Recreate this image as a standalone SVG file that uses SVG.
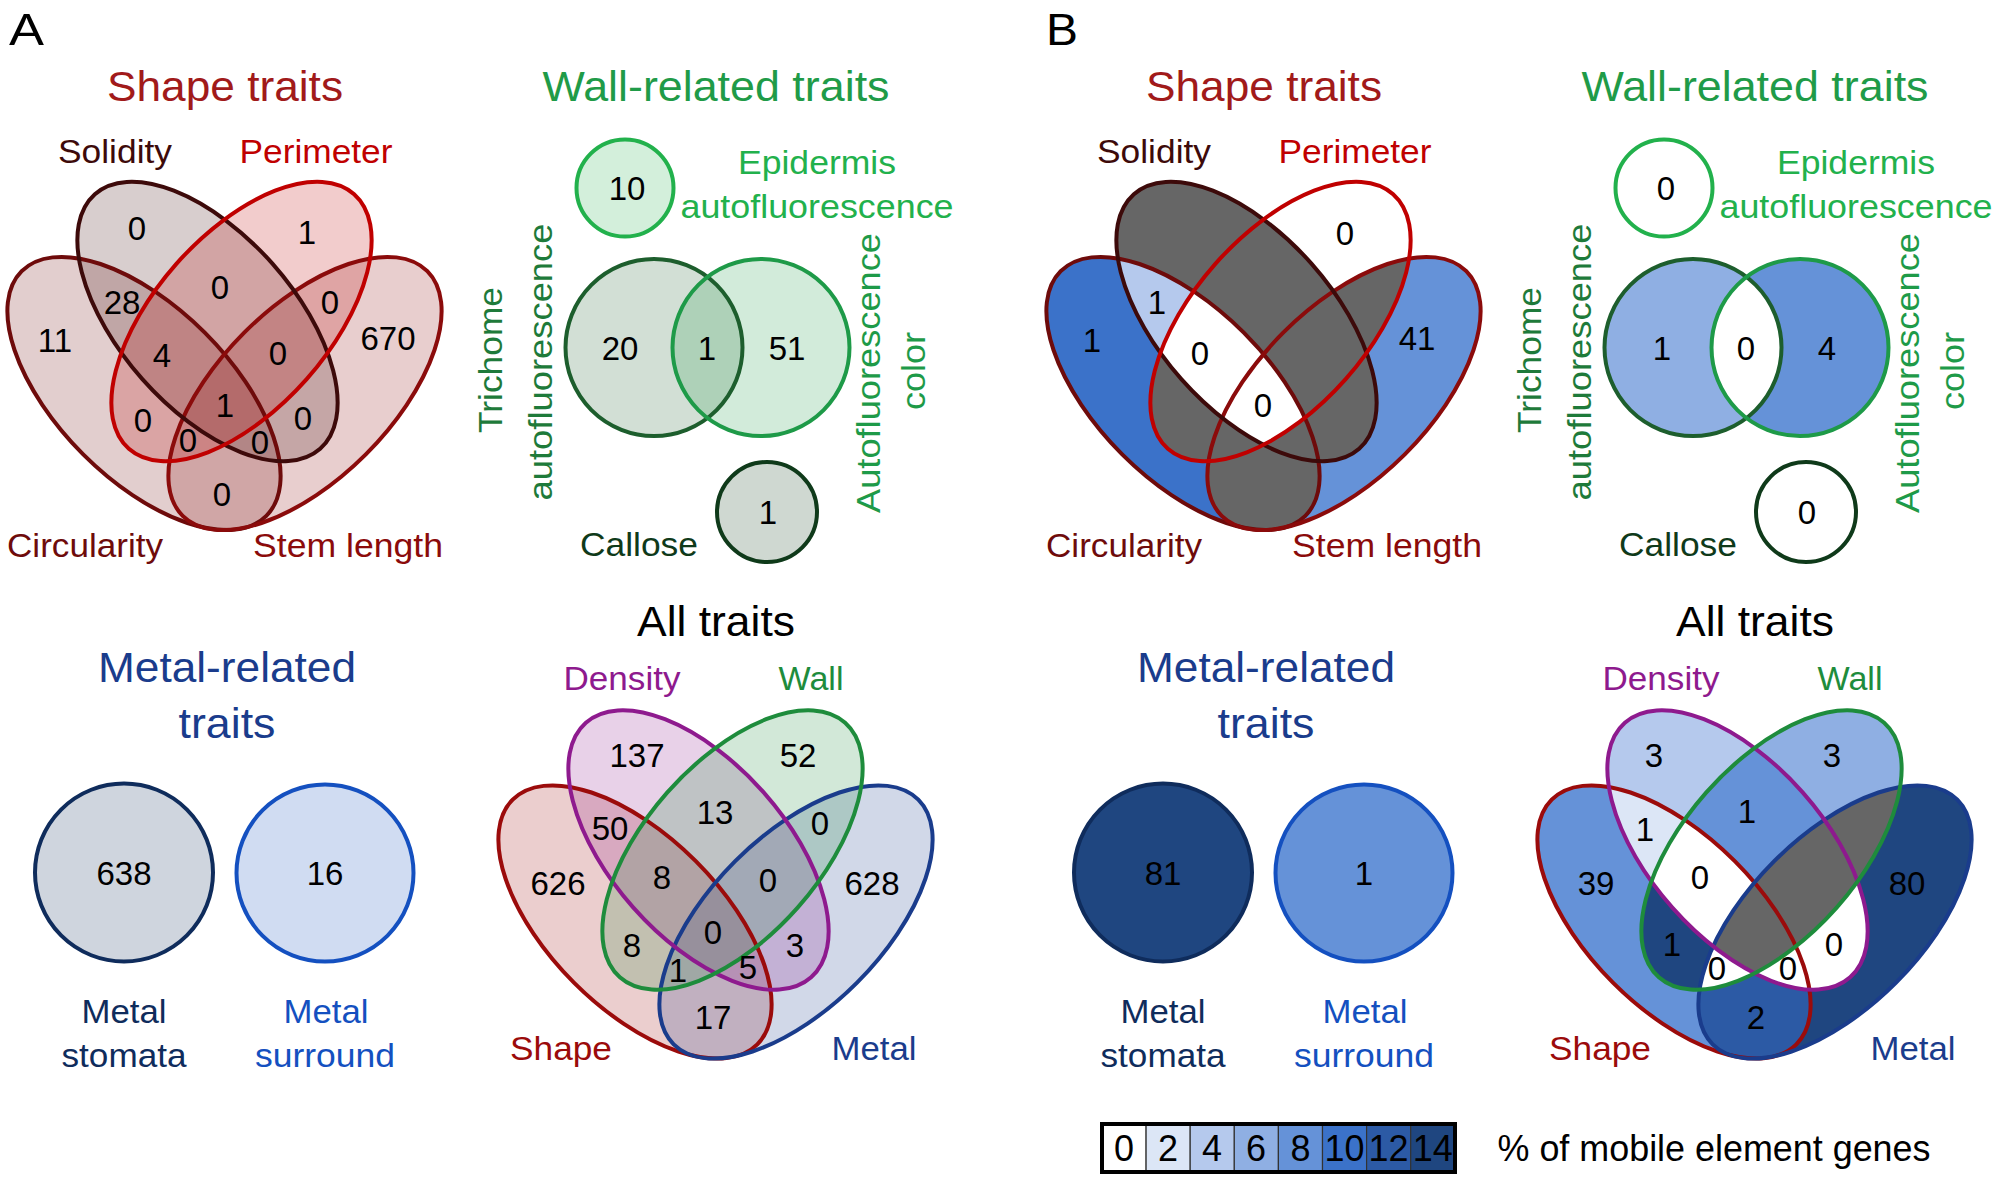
<svg xmlns="http://www.w3.org/2000/svg" width="2000" height="1185" viewBox="0 0 2000 1185">
<style>
text { font-family: "Liberation Sans", Arial, sans-serif; text-anchor: middle; }
.h { font-size: 42px; }
.l { font-size: 33px; }
.n { font-size: 33px; fill: #000; }
.pl { font-size: 44px; text-anchor: start; fill: #000; }
.ol { fill: none; stroke-width: 4; }
.a { fill-opacity: 0.2; }
.g0 { fill: #ffffff; } .g2 { fill: #dce6f6; } .g4 { fill: #b5c9ed; } .g6 { fill: #8fafe3; }
.g8 { fill: #6592d8; } .g10 { fill: #3b72c9; } .g12 { fill: #2c5aa5; } .g14 { fill: #1f4680; }
.gx { fill: #666666; }
</style>
<defs>
 <ellipse id="eS" cx="207.5" cy="321.5" rx="170" ry="87" transform="rotate(48.5 207.5 321.5)"/>
 <ellipse id="eP" cx="241.5" cy="321.5" rx="170" ry="87" transform="rotate(-48.5 241.5 321.5)"/>
 <ellipse id="eC" cx="144" cy="393.5" rx="173" ry="86" transform="rotate(45 144 393.5)"/>
 <ellipse id="eL" cx="305" cy="393.5" rx="173" ry="86" transform="rotate(-45 305 393.5)"/>
 <circle id="ciT" cx="654" cy="347.5" r="88.5"/>
 <circle id="ciA" cx="761" cy="347.5" r="88.5"/>
 <clipPath id="cS"><use href="#eS"/></clipPath>
 <clipPath id="cP"><use href="#eP"/></clipPath>
 <clipPath id="cC"><use href="#eC"/></clipPath>
 <clipPath id="cL"><use href="#eL"/></clipPath>
 <clipPath id="cA"><use href="#ciA"/></clipPath>
</defs>
<rect width="2000" height="1185" fill="#ffffff"/>

<!-- ================= PANEL A ================= -->
<g id="panelA">
 <text class="pl" x="9" y="45" textLength="35" lengthAdjust="spacingAndGlyphs">A</text>

 <g id="A-shape-traits">
  <text class="h" x="225" y="101" fill="#a11a1a" textLength="236" lengthAdjust="spacingAndGlyphs">Shape traits</text>
  <g id="A-shape-fills" class="a">
   <use href="#eC" fill="#6e0b0b"/>
   <use href="#eL" fill="#8b0b0b"/>
   <use href="#eS" fill="#3d0a0a"/>
   <use href="#eP" fill="#c00000"/>
  </g>
  <g id="A-circularity"><use href="#eC" class="ol" stroke="#6e0b0b"/><text class="l" x="85" y="557" fill="#6e0b0b" textLength="156" lengthAdjust="spacingAndGlyphs">Circularity</text></g>
  <g id="A-stem-length"><use href="#eL" class="ol" stroke="#8b0b0b"/><text class="l" x="348" y="557" fill="#8b0b0b" textLength="190" lengthAdjust="spacingAndGlyphs">Stem length</text></g>
  <g id="A-solidity"><use href="#eS" class="ol" stroke="#3d0a0a"/><text class="l" x="115" y="163" fill="#3d0a0a" textLength="114" lengthAdjust="spacingAndGlyphs">Solidity</text></g>
  <g id="A-perimeter"><use href="#eP" class="ol" stroke="#c00000"/><text class="l" x="316" y="163" fill="#c00000" textLength="153" lengthAdjust="spacingAndGlyphs">Perimeter</text></g>
  <g id="A-shape-counts">
   <text class="n" x="55" y="352">11</text>
   <text class="n" x="137" y="240">0</text>
   <text class="n" x="307" y="244">1</text>
   <text class="n" x="388" y="350">670</text>
   <text class="n" x="122" y="314">28</text>
   <text class="n" x="220" y="299">0</text>
   <text class="n" x="330" y="314">0</text>
   <text class="n" x="162" y="367">4</text>
   <text class="n" x="278" y="365">0</text>
   <text class="n" x="225" y="417">1</text>
   <text class="n" x="143" y="432">0</text>
   <text class="n" x="303" y="430">0</text>
   <text class="n" x="188" y="452">0</text>
   <text class="n" x="260" y="454">0</text>
   <text class="n" x="222" y="506">0</text>
  </g>
 </g>

 <g id="A-wall-traits">
  <text class="h" x="716" y="101" fill="#1f9b48" textLength="347" lengthAdjust="spacingAndGlyphs">Wall-related traits</text>
  <g id="A-epidermis">
   <circle cx="625" cy="188" r="48.5" fill="#22b14c" fill-opacity="0.2" stroke="#22b14c" stroke-width="4"/>
   <text class="n" x="627" y="200">10</text>
   <text class="l" x="817" y="174" fill="#22b14c" textLength="158" lengthAdjust="spacingAndGlyphs">Epidermis</text>
   <text class="l" x="817" y="218" fill="#22b14c" textLength="273" lengthAdjust="spacingAndGlyphs">autofluorescence</text>
  </g>
  <g id="A-wall-fills" class="a">
   <use href="#ciT" fill="#1d5e2d"/>
   <use href="#ciA" fill="#1e9a48"/>
  </g>
  <g id="A-trichome">
   <use href="#ciT" class="ol" stroke="#1d5e2d"/>
   <text class="l" transform="translate(502 360) rotate(-90)" fill="#1e7a3a" textLength="146" lengthAdjust="spacingAndGlyphs">Trichome</text>
   <text class="l" transform="translate(552 362) rotate(-90)" fill="#1e7a3a" textLength="277" lengthAdjust="spacingAndGlyphs">autofluorescence</text>
  </g>
  <g id="A-autofluorescence-color">
   <use href="#ciA" class="ol" stroke="#1e9a48"/>
   <text class="l" transform="translate(880 373) rotate(-90)" fill="#1e9a48" textLength="280" lengthAdjust="spacingAndGlyphs">Autofluorescence</text>
   <text class="l" transform="translate(925 371) rotate(-90)" fill="#1e9a48" textLength="78" lengthAdjust="spacingAndGlyphs">color</text>
  </g>
  <g id="A-wall-counts">
   <text class="n" x="620" y="360">20</text>
   <text class="n" x="707" y="360">1</text>
   <text class="n" x="787" y="360">51</text>
  </g>
  <g id="A-callose">
   <circle cx="767" cy="512" r="50" fill="#0f3a1a" fill-opacity="0.2" stroke="#0f3a1a" stroke-width="4"/>
   <text class="n" x="768" y="524">1</text>
   <text class="l" x="639" y="556" fill="#0f3a1a" textLength="118" lengthAdjust="spacingAndGlyphs">Callose</text>
  </g>
 </g>

 <g id="A-metal-traits">
  <text class="h" x="227" y="682" fill="#1a3c8c" textLength="258" lengthAdjust="spacingAndGlyphs">Metal-related</text>
  <text class="h" x="227" y="738" fill="#1a3c8c" textLength="97" lengthAdjust="spacingAndGlyphs">traits</text>
  <g id="A-metal-stomata">
   <circle cx="124" cy="872.5" r="89" fill="#0f2c5c" fill-opacity="0.2" stroke="#0f2c5c" stroke-width="4"/>
   <text class="n" x="124" y="885">638</text>
   <text class="l" x="124" y="1023" fill="#0f2c5c" textLength="85" lengthAdjust="spacingAndGlyphs">Metal</text>
   <text class="l" x="124" y="1067" fill="#0f2c5c" textLength="125" lengthAdjust="spacingAndGlyphs">stomata</text>
  </g>
  <g id="A-metal-surround">
   <circle cx="325" cy="873" r="88.5" fill="#1450c0" fill-opacity="0.2" stroke="#1450c0" stroke-width="4"/>
   <text class="n" x="325" y="885">16</text>
   <text class="l" x="326" y="1023" fill="#1450c0" textLength="85" lengthAdjust="spacingAndGlyphs">Metal</text>
   <text class="l" x="325" y="1067" fill="#1450c0" textLength="140" lengthAdjust="spacingAndGlyphs">surround</text>
  </g>
 </g>

 <g id="A-all-traits">
  <text class="h" x="716" y="636" fill="#000" textLength="158" lengthAdjust="spacingAndGlyphs">All traits</text>
  <g transform="translate(491 528.5)">
   <g id="A-all-fills" class="a">
    <use href="#eC" fill="#9b0b0b"/>
    <use href="#eL" fill="#1a3c8c"/>
    <use href="#eS" fill="#8e1a8e"/>
    <use href="#eP" fill="#1e8c3c"/>
   </g>
   <g id="A-shape"><use href="#eC" class="ol" stroke="#9b0b0b"/></g>
   <g id="A-metal"><use href="#eL" class="ol" stroke="#1a3c8c"/></g>
   <g id="A-density"><use href="#eS" class="ol" stroke="#8e1a8e"/></g>
   <g id="A-wall"><use href="#eP" class="ol" stroke="#1e8c3c"/></g>
  </g>
  <text class="l" x="622" y="690" fill="#8e1a8e" textLength="117" lengthAdjust="spacingAndGlyphs">Density</text>
  <text class="l" x="811" y="690" fill="#1e8c3c" textLength="65" lengthAdjust="spacingAndGlyphs">Wall</text>
  <text class="l" x="561" y="1060" fill="#9b0b0b" textLength="102" lengthAdjust="spacingAndGlyphs">Shape</text>
  <text class="l" x="874" y="1060" fill="#1a3c8c" textLength="85" lengthAdjust="spacingAndGlyphs">Metal</text>
  <g id="A-all-counts">
   <text class="n" x="637" y="767">137</text>
   <text class="n" x="798" y="767">52</text>
   <text class="n" x="715" y="824">13</text>
   <text class="n" x="610" y="840">50</text>
   <text class="n" x="820" y="835">0</text>
   <text class="n" x="558" y="895">626</text>
   <text class="n" x="662" y="889">8</text>
   <text class="n" x="768" y="892">0</text>
   <text class="n" x="872" y="895">628</text>
   <text class="n" x="713" y="944">0</text>
   <text class="n" x="632" y="957">8</text>
   <text class="n" x="795" y="957">3</text>
   <text class="n" x="678" y="982">1</text>
   <text class="n" x="748" y="979">5</text>
   <text class="n" x="713" y="1029">17</text>
  </g>
 </g>
</g>

<!-- ================= PANEL B ================= -->
<g id="panelB">
 <text class="pl" x="1046" y="45" textLength="32" lengthAdjust="spacingAndGlyphs">B</text>

 <g id="B-shape-traits" transform="translate(1039 0)">
  <text class="h" x="225" y="101" fill="#a11a1a" textLength="236" lengthAdjust="spacingAndGlyphs">Shape traits</text>
  <g id="B-shape-fills">
   <use href="#eP" class="g0"/>
   <use href="#eC" class="g10"/>
   <use href="#eL" class="g8"/>
   <use href="#eL" class="gx" clip-path="url(#cC)"/>
   <use href="#eP" class="gx" clip-path="url(#cC)"/>
   <use href="#eP" class="gx" clip-path="url(#cL)"/>
   <use href="#eS" class="gx"/>
   <use href="#eS" class="g4" clip-path="url(#cC)"/>
   <g clip-path="url(#cC)"><use href="#eS" class="gx" clip-path="url(#cL)"/></g>
   <g clip-path="url(#cC)"><use href="#eS" class="g0" clip-path="url(#cP)"/></g>
  </g>
  <g id="B-circularity"><use href="#eC" class="ol" stroke="#6e0b0b"/><text class="l" x="85" y="557" fill="#6e0b0b" textLength="156" lengthAdjust="spacingAndGlyphs">Circularity</text></g>
  <g id="B-stem-length"><use href="#eL" class="ol" stroke="#8b0b0b"/><text class="l" x="348" y="557" fill="#8b0b0b" textLength="190" lengthAdjust="spacingAndGlyphs">Stem length</text></g>
  <g id="B-solidity"><use href="#eS" class="ol" stroke="#3d0a0a"/><text class="l" x="115" y="163" fill="#3d0a0a" textLength="114" lengthAdjust="spacingAndGlyphs">Solidity</text></g>
  <g id="B-perimeter"><use href="#eP" class="ol" stroke="#c00000"/><text class="l" x="316" y="163" fill="#c00000" textLength="153" lengthAdjust="spacingAndGlyphs">Perimeter</text></g>
  <g id="B-shape-counts">
   <text class="n" x="53" y="352">1</text>
   <text class="n" x="118" y="314">1</text>
   <text class="n" x="161" y="365">0</text>
   <text class="n" x="306" y="245">0</text>
   <text class="n" x="378" y="350">41</text>
   <text class="n" x="224" y="417">0</text>
  </g>
 </g>

 <g id="B-wall-traits" transform="translate(1039 0)">
  <text class="h" x="716" y="101" fill="#1f9b48" textLength="347" lengthAdjust="spacingAndGlyphs">Wall-related traits</text>
  <g id="B-epidermis">
   <circle cx="625" cy="188" r="48.5" fill="#ffffff" stroke="#22b14c" stroke-width="4"/>
   <text class="n" x="627" y="200">0</text>
   <text class="l" x="817" y="174" fill="#22b14c" textLength="158" lengthAdjust="spacingAndGlyphs">Epidermis</text>
   <text class="l" x="817" y="218" fill="#22b14c" textLength="273" lengthAdjust="spacingAndGlyphs">autofluorescence</text>
  </g>
  <g id="B-wall-fills">
   <use href="#ciT" class="g6"/>
   <use href="#ciA" class="g8"/>
   <use href="#ciT" class="g0" clip-path="url(#cA)"/>
  </g>
  <g id="B-trichome">
   <use href="#ciT" class="ol" stroke="#1d5e2d"/>
   <text class="l" transform="translate(502 360) rotate(-90)" fill="#1e7a3a" textLength="146" lengthAdjust="spacingAndGlyphs">Trichome</text>
   <text class="l" transform="translate(552 362) rotate(-90)" fill="#1e7a3a" textLength="277" lengthAdjust="spacingAndGlyphs">autofluorescence</text>
  </g>
  <g id="B-autofluorescence-color">
   <use href="#ciA" class="ol" stroke="#1e9a48"/>
   <text class="l" transform="translate(880 373) rotate(-90)" fill="#1e9a48" textLength="280" lengthAdjust="spacingAndGlyphs">Autofluorescence</text>
   <text class="l" transform="translate(925 371) rotate(-90)" fill="#1e9a48" textLength="78" lengthAdjust="spacingAndGlyphs">color</text>
  </g>
  <g id="B-wall-counts">
   <text class="n" x="623" y="360">1</text>
   <text class="n" x="707" y="360">0</text>
   <text class="n" x="788" y="360">4</text>
  </g>
  <g id="B-callose">
   <circle cx="767" cy="512" r="50" fill="#ffffff" stroke="#0f3a1a" stroke-width="4"/>
   <text class="n" x="768" y="524">0</text>
   <text class="l" x="639" y="556" fill="#0f3a1a" textLength="118" lengthAdjust="spacingAndGlyphs">Callose</text>
  </g>
 </g>

 <g id="B-metal-traits" transform="translate(1039 0)">
  <text class="h" x="227" y="682" fill="#1a3c8c" textLength="258" lengthAdjust="spacingAndGlyphs">Metal-related</text>
  <text class="h" x="227" y="738" fill="#1a3c8c" textLength="97" lengthAdjust="spacingAndGlyphs">traits</text>
  <g id="B-metal-stomata">
   <circle cx="124" cy="872.5" r="89" class="g14" stroke="#0f2c5c" stroke-width="4"/>
   <text class="n" x="124" y="885">81</text>
   <text class="l" x="124" y="1023" fill="#0f2c5c" textLength="85" lengthAdjust="spacingAndGlyphs">Metal</text>
   <text class="l" x="124" y="1067" fill="#0f2c5c" textLength="125" lengthAdjust="spacingAndGlyphs">stomata</text>
  </g>
  <g id="B-metal-surround">
   <circle cx="325" cy="873" r="88.5" class="g8" stroke="#1450c0" stroke-width="4"/>
   <text class="n" x="325" y="885">1</text>
   <text class="l" x="326" y="1023" fill="#1450c0" textLength="85" lengthAdjust="spacingAndGlyphs">Metal</text>
   <text class="l" x="325" y="1067" fill="#1450c0" textLength="140" lengthAdjust="spacingAndGlyphs">surround</text>
  </g>
 </g>

 <g id="B-all-traits" transform="translate(1039 0)">
  <text class="h" x="716" y="636" fill="#000" textLength="158" lengthAdjust="spacingAndGlyphs">All traits</text>
  <g transform="translate(491 528.5)">
   <g id="B-all-fills">
    <use href="#eS" class="g4"/>
    <use href="#eP" class="g6"/>
    <use href="#eP" class="g8" clip-path="url(#cS)"/>
    <use href="#eC" class="g8"/>
    <use href="#eL" class="g14"/>
    <use href="#eL" class="g12" clip-path="url(#cC)"/>
    <use href="#eS" class="g2" clip-path="url(#cC)"/>
    <use href="#eP" class="g14" clip-path="url(#cC)"/>
    <g clip-path="url(#cC)"><use href="#eP" class="g0" clip-path="url(#cS)"/></g>
    <use href="#eL" class="g0" clip-path="url(#cS)"/>
    <use href="#eL" class="gx" clip-path="url(#cP)"/>
    <g clip-path="url(#cC)"><use href="#eL" class="g0" clip-path="url(#cP)"/></g>
    <g clip-path="url(#cC)"><g clip-path="url(#cS)"><use href="#eL" class="gx" clip-path="url(#cP)"/></g></g>
   </g>
   <g id="B-shape"><use href="#eC" class="ol" stroke="#9b0b0b"/></g>
   <g id="B-metal"><use href="#eL" class="ol" stroke="#1a3c8c"/></g>
   <g id="B-density"><use href="#eS" class="ol" stroke="#8e1a8e"/></g>
   <g id="B-wall"><use href="#eP" class="ol" stroke="#1e8c3c"/></g>
  </g>
  <text class="l" x="622" y="690" fill="#8e1a8e" textLength="117" lengthAdjust="spacingAndGlyphs">Density</text>
  <text class="l" x="811" y="690" fill="#1e8c3c" textLength="65" lengthAdjust="spacingAndGlyphs">Wall</text>
  <text class="l" x="561" y="1060" fill="#9b0b0b" textLength="102" lengthAdjust="spacingAndGlyphs">Shape</text>
  <text class="l" x="874" y="1060" fill="#1a3c8c" textLength="85" lengthAdjust="spacingAndGlyphs">Metal</text>
  <g id="B-all-counts">
   <text class="n" x="615" y="767">3</text>
   <text class="n" x="793" y="767">3</text>
   <text class="n" x="708" y="823">1</text>
   <text class="n" x="606" y="841">1</text>
   <text class="n" x="557" y="895">39</text>
   <text class="n" x="661" y="889">0</text>
   <text class="n" x="868" y="895">80</text>
   <text class="n" x="633" y="956">1</text>
   <text class="n" x="795" y="956">0</text>
   <text class="n" x="678" y="980">0</text>
   <text class="n" x="749" y="980">0</text>
   <text class="n" x="717" y="1029">2</text>
  </g>
 </g>

 <g id="B-legend">
  <rect x="1102" y="1124" width="44.1" height="48" class="g0" stroke="#333" stroke-width="1.2"/>
  <rect x="1146.1" y="1124" width="44.1" height="48" class="g2" stroke="#333" stroke-width="1.2"/>
  <rect x="1190.2" y="1124" width="44.1" height="48" class="g4" stroke="#333" stroke-width="1.2"/>
  <rect x="1234.3" y="1124" width="44.1" height="48" class="g6" stroke="#333" stroke-width="1.2"/>
  <rect x="1278.4" y="1124" width="44.1" height="48" class="g8" stroke="#333" stroke-width="1.2"/>
  <rect x="1322.5" y="1124" width="44.1" height="48" class="g10" stroke="#333" stroke-width="1.2"/>
  <rect x="1366.6" y="1124" width="44.1" height="48" class="g12" stroke="#333" stroke-width="1.2"/>
  <rect x="1410.7" y="1124" width="44.3" height="48" class="g14" stroke="#333" stroke-width="1.2"/>
  <rect x="1102" y="1124" width="353" height="48" fill="none" stroke="#000" stroke-width="4"/>
  <text class="n" x="1124" y="1161" style="font-size:36px">0</text>
  <text class="n" x="1168" y="1161" style="font-size:36px">2</text>
  <text class="n" x="1212" y="1161" style="font-size:36px">4</text>
  <text class="n" x="1256" y="1161" style="font-size:36px">6</text>
  <text class="n" x="1300.5" y="1161" style="font-size:36px">8</text>
  <text class="n" x="1344.5" y="1161" style="font-size:36px" textLength="40" lengthAdjust="spacingAndGlyphs">10</text>
  <text class="n" x="1388.6" y="1161" style="font-size:36px" textLength="40" lengthAdjust="spacingAndGlyphs">12</text>
  <text class="n" x="1432.8" y="1161" style="font-size:36px" textLength="40" lengthAdjust="spacingAndGlyphs">14</text>
  <text class="n" x="1714" y="1161" style="font-size:36px" textLength="433" lengthAdjust="spacingAndGlyphs">% of mobile element genes</text>
 </g>
</g>
</svg>
